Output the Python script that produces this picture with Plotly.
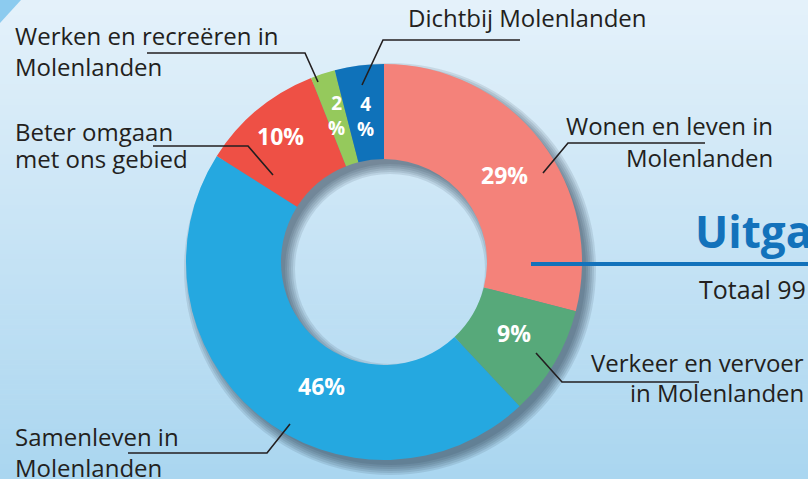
import plotly.graph_objects as go
import numpy as np

W, H = 808, 479

# ---------------- data ----------------
categories = [
    "Wonen en leven in Molenlanden",
    "Verkeer en vervoer in Molenlanden",
    "Samenleven in Molenlanden",
    "Beter omgaan met ons gebied",
    "Werken en recreëren in Molenlanden",
    "Dichtbij Molenlanden",
]
values = [29, 9, 46, 10, 2, 4]
pct_text = ["29%", "9%", "46%", "10%", "2<br>%", "4<br>%"]
colors = ["#F4827A", "#57A97A", "#25A8E0", "#EE5045", "#95C95C", "#0F72BA"]

# label placement tweaks (layout only)
pct_angle_shift = [2, -2, -13, 0, 0, 0]
pct_radius = [148, 148, 139, 163, 154, 147]
pct_size = [23, 23, 23, 23, 19, 19]

# ---------------- geometry ----------------
CX, CY, R_OUT, R_IN = 384, 262, 198, 103
FONT = "Open Sans"
DARK = "#231f20"


def px(x):
    return x / W


def py(y):
    return 1 - y / H


fig = go.Figure()

# background gradient
shapes = []
N = 96
top = np.array([229, 242, 251])
bot = np.array([170, 214, 240])
for i in range(N):
    t = (i + 0.5) / N
    c = top * (1 - t) + bot * t
    shapes.append(dict(type="rect", xref="paper", yref="paper", layer="below",
                       x0=0, x1=1, y0=py(H * (i + 1) / N + 0.5), y1=py(H * i / N),
                       line=dict(width=0), fillcolor="rgb(%d,%d,%d)" % tuple(c)))
# corner triangle
shapes.append(dict(type="path", xref="paper", yref="paper", layer="below",
                   path="M %f,%f L %f,%f L %f,%f Z" % (px(0), py(0), px(21), py(0), px(0), py(23)),
                   line=dict(width=0), fillcolor="#8ccbef"))

# shadow layers
for k in [0, 2, 4, 6, 8, 10]:
    ro = R_OUT + k - 2
    ri = R_IN - k + 2
    ox, oy = 6, 7
    fig.add_trace(go.Pie(values=[1], labels=["s"], hole=ri / ro, sort=False,
                         marker=dict(colors=["rgba(30,45,60,0.11)"], line=dict(width=0)),
                         textinfo="none", hoverinfo="skip", showlegend=False,
                         domain=dict(x=[px(CX + ox - ro), px(CX + ox + ro)],
                                     y=[py(CY + oy + ro), py(CY + oy - ro)])))

fig.add_trace(go.Pie(
    values=values, labels=categories, hole=R_IN / R_OUT, sort=False,
    direction="clockwise", rotation=0,
    marker=dict(colors=colors, line=dict(width=0)),
    textinfo="none", showlegend=False,
    domain=dict(x=[px(CX - R_OUT), px(CX + R_OUT)], y=[py(CY + R_OUT), py(CY - R_OUT)]),
))

annotations = []

# percent labels from data
total = sum(values)
cum = 0
for v, t, sh, r, fs in zip(values, pct_text, pct_angle_shift, pct_radius, pct_size):
    mid = (cum + v / 2) / total * 360 + sh
    cum += v
    x = CX + r * np.sin(np.radians(mid))
    y = CY - r * np.cos(np.radians(mid))
    annotations.append(dict(x=px(x), y=py(y), xref="paper", yref="paper",
                            text="<b>%s</b>" % t, align="center",
                            showarrow=False, xanchor="center", yanchor="middle",
                            font=dict(family=FONT, size=fs, color="white")))


def label(text, x, baseline, anchor="left", size=24, color=DARK, bold=False):
    xx = x - 4 if anchor == "left" else x + 3
    annotations.append(dict(x=px(xx), y=py(baseline + 0.33 * size), xref="paper", yref="paper",
                            text=("<b>%s</b>" % text) if bold else text,
                            showarrow=False, xanchor=anchor, yanchor="bottom",
                            font=dict(family=FONT, size=size, color=color)))


label("Werken en recreëren in", 17, 46)
label("Molenlanden", 17, 77)
label("Dichtbij Molenlanden", 410, 28)
label("Beter omgaan", 17, 142)
label("met ons gebied", 17, 169)
label("Wonen en leven in", 772, 136, "right")
label("Molenlanden", 772, 168, "right")
label("Verkeer en vervoer", 803, 373, "right")
label("in Molenlanden", 803, 403, "right")
label("Samenleven in", 17, 447)
label("Molenlanden", 17, 478)

# title text cut by the right edge
label("Uitgaven", 697, 248, size=44, color="#1372BB", bold=True)
label("Totaal 99", 701, 300, size=25)

# leader lines
leaders = [
    [(520, 40), (383, 40), (362, 85)],
    [(147, 53), (305, 53), (318, 82)],
    [(153, 146), (248, 146), (273, 175)],
    [(705, 143), (568, 143), (543, 173)],
    [(536, 353), (562, 382), (699, 382)],
    [(128, 453), (267, 453), (290, 424)],
]
for pts in leaders:
    path = "M " + " L ".join("%f,%f" % (px(a), py(b)) for a, b in pts)
    shapes.append(dict(type="path", xref="paper", yref="paper", layer="above", path=path,
                       line=dict(color=DARK, width=1.6)))

# title underline
shapes.append(dict(type="line", xref="paper", yref="paper", layer="above",
                   x0=px(531), x1=px(810), y0=py(264), y1=py(264),
                   line=dict(color="#1372BB", width=4)))

fig.update_layout(width=W, height=H, margin=dict(l=0, r=0, t=0, b=0),
                  paper_bgcolor="#cfe7f6", plot_bgcolor="rgba(0,0,0,0)",
                  shapes=shapes, annotations=annotations, showlegend=False,
                  font=dict(family=FONT))

fig.write_html("out.html", config={"displayModeBar": False},
               post_script="document.body.style.margin='0px';document.body.style.overflow='hidden';")
